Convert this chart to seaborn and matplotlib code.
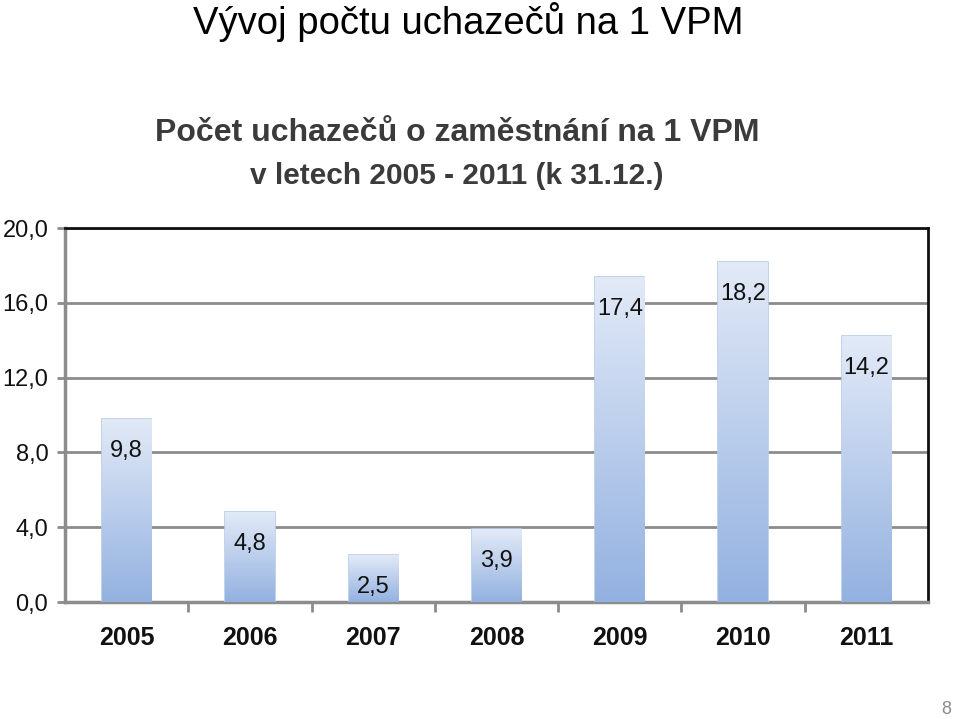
import numpy as np
import pandas as pd
import matplotlib
matplotlib.use("Agg")
import matplotlib.pyplot as plt
from matplotlib.colors import LinearSegmentedColormap
import seaborn as sns

years = ["2005", "2006", "2007", "2008", "2009", "2010", "2011"]
values = [9.8, 4.8, 2.5, 3.9, 17.4, 18.2, 14.2]
value_labels = ["9,8", "4,8", "2,5", "3,9", "17,4", "18,2", "14,2"]
yticks = [0, 4, 8, 12, 16, 20]
ytick_labels = ["0,0", "4,0", "8,0", "12,0", "16,0", "20,0"]

sns.set_theme(style="white")
plt.rcParams['font.family'] = ['Liberation Sans', 'DejaVu Sans']

fig = plt.figure(figsize=(9.6, 7.19), dpi=100)
ax = fig.add_axes([65/960, 1-602/719, (928-65)/960, (602-228)/719])

df = pd.DataFrame({"year": years, "value": values})
sns.barplot(data=df, x="year", y="value", ax=ax, width=0.4,
            color="#c5d5ee", edgecolor="#b8cbe8", linewidth=1.2, zorder=3)

cmap = LinearSegmentedColormap.from_list("g", ["#93b1e0", "#e2eaf7"])
grad = np.linspace(0, 1, 256).reshape(-1, 1)
for p in ax.patches:
    x0, y0 = p.get_x(), p.get_y()
    w, h = p.get_width(), p.get_height()
    im = ax.imshow(grad, cmap=cmap, aspect="auto", origin="lower",
                   extent=[x0, x0 + w, y0, y0 + h], zorder=3.5)
    im.set_clip_path(p)

ax.set_xlim(-0.5, len(years) - 0.5)
ax.set_ylim(0, 20)
ax.set_yticks(yticks)
ax.set_yticklabels(ytick_labels, fontsize=17, color="#111111")
ax.set_xticks(range(len(years)))
ax.set_xticklabels(years, fontsize=18, fontweight="bold", color="#111111")
ax.set_xlabel("")
ax.set_ylabel("")
ax.yaxis.grid(True, color="#8c8c8c", linewidth=2, zorder=1)
ax.set_axisbelow(True)

ax.tick_params(axis="y", which="major", length=6, width=2, color="#8c8c8c", pad=6, left=True)
ax.tick_params(axis="x", which="major", length=0, pad=17)
ax.set_xticks(np.arange(0.5, len(years) - 0.5, 1), minor=True)
ax.tick_params(axis="x", which="minor", length=7, width=2, color="#8c8c8c", bottom=True)

for side in ["left", "bottom"]:
    ax.spines[side].set_color("#8c8c8c")
    ax.spines[side].set_linewidth(2.5)
for side in ["top", "right"]:
    ax.spines[side].set_color("#111111")
    ax.spines[side].set_linewidth(2)
    ax.spines[side].set_visible(True)

for i, (v, lab) in enumerate(zip(values, value_labels)):
    ax.annotate(lab, xy=(i, v), xytext=(0, -32), textcoords="offset pixels",
                ha="center", va="center", fontsize=17, color="#111111", zorder=5)

fig.text(468/960, 1-34/719, "Vývoj počtu uchazečů na 1 VPM", ha="center", va="baseline",
         fontsize=27.5, color="black")
fig.text(457/960, 1-133/719, "Počet uchazečů o zaměstnání na 1 VPM", ha="center", va="center",
         fontsize=23, fontweight="bold", color="#3b3b3b")
fig.text(457/960, 1-176/719, "v letech 2005 - 2011 (k 31.12.)", ha="center", va="center",
         fontsize=21.5, fontweight="bold", color="#3b3b3b")
fig.text(946/960, 1-710/719, "8", ha="center", va="center", fontsize=13, color="#8a8a8a")

fig.savefig("out.png", dpi=100)
